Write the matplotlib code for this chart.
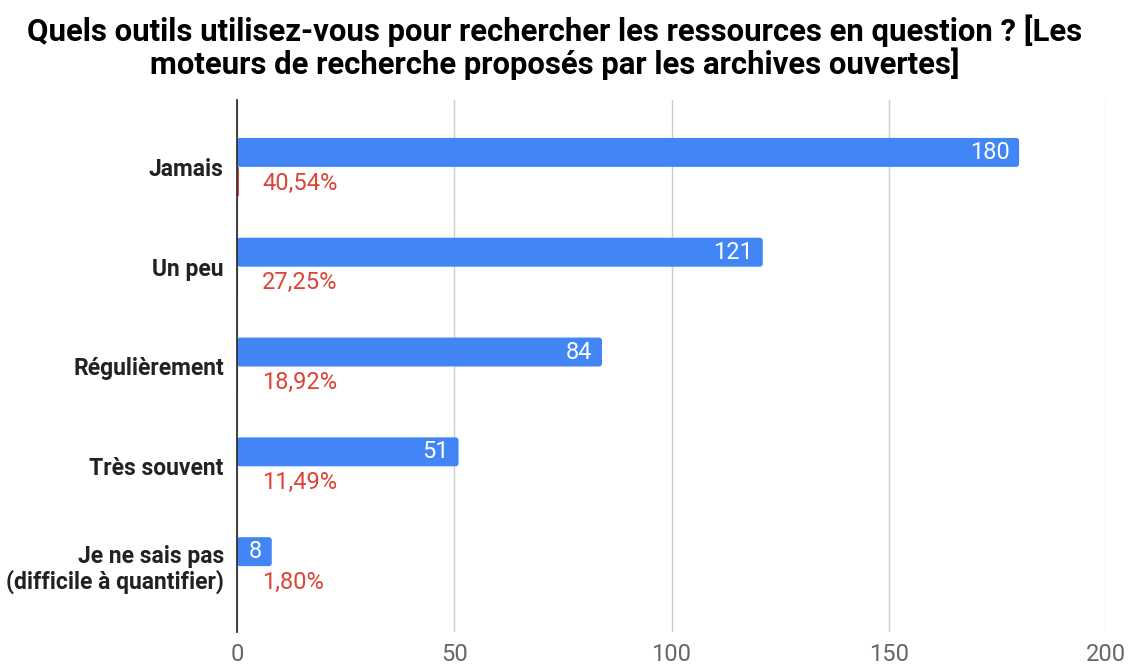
import matplotlib
matplotlib.use("Agg")
import matplotlib.pyplot as plt
from matplotlib.patches import FancyBboxPatch
import numpy as np

categories = ["Jamais", "Un peu", "Régulièrement", "Très souvent",
              "Je ne sais pas\n(difficile à quantifier)"]
counts = [180, 121, 84, 51, 8]
shares = [0.4054, 0.2725, 0.1892, 0.1149, 0.0180]
share_labels = ["40,54%", "27,25%", "18,92%", "11,49%", "1,80%"]
xticks = [0, 50, 100, 150, 200]
title = ("Quels outils utilisez-vous pour rechercher les ressources en question ? [Les\n"
         "moteurs de recherche proposés par les archives ouvertes]")

BLUE = "#4285F4"
RED = "#DB4437"

plt.rcParams['font.family'] = ['Roboto', 'DejaVu Sans']

fig = plt.figure(figsize=(11.29, 6.67), dpi=100)
W, H = 1129, 667
ax = fig.add_axes([237 / W, 1 - 632 / H, (1106 - 237) / W, (632 - 100) / H])

y = np.arange(len(categories))
bh = 0.29
off = 0.145
blue = ax.barh(y - off, counts, height=bh, color=BLUE, zorder=3)
ax.barh(y + off, shares, height=bh, color=RED, zorder=3)

ax.set_xlim(0, 200)
ax.set_ylim(len(categories) - 1 + 0.66, -0.67)

# rounded ends for blue bars
px_x = (1106 - 237) / 200.0
px_y = (632 - 100) / (len(categories) - 1 + 0.66 + 0.67)
r_px = 3.0
for rect in list(blue.patches):
    x0, y0 = rect.get_x(), rect.get_y()
    w, h = rect.get_width(), rect.get_height()
    fb = FancyBboxPatch((x0, y0), w, h,
                        boxstyle=f"round,pad=0,rounding_size={r_px / px_x}",
                        mutation_aspect=(px_x / px_y),
                        facecolor=BLUE, edgecolor="none", zorder=3)
    rect.set_visible(False)
    ax.add_patch(fb)

ax.set_xticks(xticks)
ax.set_xticklabels([str(t) for t in xticks], color="#666666", fontsize=17)
ax.tick_params(axis="x", length=0, pad=8)
ax.set_yticks(y)
ax.set_yticklabels(categories, fontsize=16.5, fontweight="bold", color="#222222",
                   linespacing=1.1)
ax.tick_params(axis="y", length=0, pad=9.5)

ax.grid(axis="x", color="#CCCCCC", linewidth=1, zorder=0)
for s in ["top", "right", "bottom"]:
    ax.spines[s].set_visible(False)
ax.spines["left"].set_color("#333333")
ax.spines["left"].set_linewidth(1.3)
ax.spines["left"].set_zorder(4)

for yi, c in zip(y, counts):
    ax.annotate(str(c), xy=(c, yi - off), xytext=(-7, 0), textcoords="offset points",
                ha="right", va="center", color="white", fontsize=17, zorder=5)
for yi, s, lab in zip(y, shares, share_labels):
    ax.annotate(lab, xy=(0, yi + off), xytext=(18, -1.2), textcoords="offset points",
                ha="left", va="center", color=RED, fontsize=17, zorder=5)

fig.suptitle(title, x=555 / W, y=1 - 14 / H, va="top", fontsize=22.4,
             fontweight="bold", color="#000000", linespacing=1.03)

fig.savefig("out.png", dpi=100)
